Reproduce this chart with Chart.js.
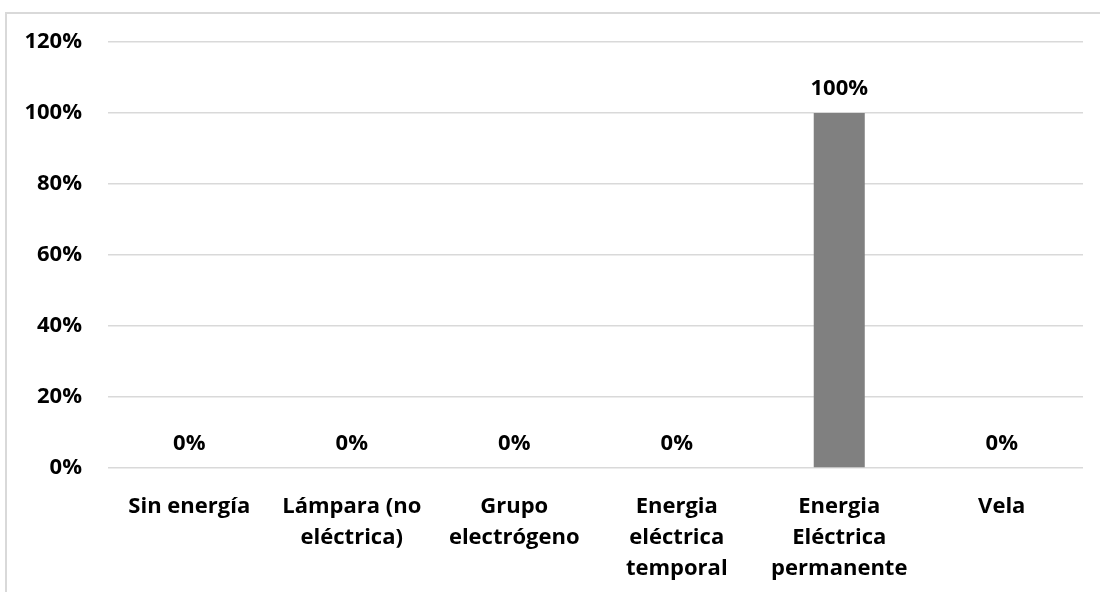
<!DOCTYPE html>
<html>
<head>
<meta charset="utf-8">
<script src="https://cdn.jsdelivr.net/npm/chart.js@4"></script>
<style>
    body { margin: 0; background: #fff; overflow: hidden; }
    .frame { position: absolute; left: 5px; top: 12px; width: 1200px; height: 700px; border: 2px solid #d9d9d9; }
    #myChart { position: absolute; left: 0; top: 0; }
</style>
</head>
<body>
<div class="frame"></div>
<canvas id="myChart" width="1100" height="592"></canvas>
<script>
// categories (each one split into the lines shown under the axis)
const labels = [
    ['Sin energía'],
    ['Lámpara (no', 'eléctrica)'],
    ['Grupo', 'electrógeno'],
    ['Energia', 'eléctrica', 'temporal'],
    ['Energia', 'Eléctrica', 'permanente'],
    ['Vela']
];
// percent values
const dataSet = [0, 0, 0, 0, 100, 0];
// y axis
const yMax = 120;
const yStep = 20;

const fontFamily = '"Open Sans", "Liberation Sans", sans-serif';
const font = { family: fontFamily, size: 22, weight: 'bold' };

// draws the "x%" label above each bar
const valueLabels = {
    id: 'valueLabels',
    afterDatasetsDraw(chart) {
        const ctx = chart.ctx;
        const meta = chart.getDatasetMeta(0);
        ctx.save();
        ctx.font = 'bold 22px ' + fontFamily;
        ctx.fillStyle = '#000';
        ctx.textAlign = 'center';
        ctx.textBaseline = 'alphabetic';
        meta.data.forEach((bar, i) => {
            ctx.fillText(dataSet[i] + '%', bar.x, bar.y - 18.5);
        });
        ctx.restore();
    }
};

new Chart(document.getElementById('myChart').getContext('2d'), {
    type: 'bar',
    data: {
        labels: labels,
        datasets: [{
            data: dataSet,
            backgroundColor: '#808080',
            borderWidth: 0,
            barPercentage: 0.314,
            categoryPercentage: 1
        }]
    },
    options: {
        responsive: false,
        animation: false,
        devicePixelRatio: 1,
        layout: { padding: { top: 42, right: 17, bottom: 0, left: 0 } },
        plugins: {
            legend: { display: false },
            tooltip: { enabled: false }
        },
        scales: {
            x: {
                grid: { display: false, drawTicks: false },
                border: { display: false },
                ticks: { color: '#000', font: { ...font, lineHeight: 1.41 }, padding: 23, maxRotation: 0, autoSkip: false },
                afterFit: (scale) => { scale.height = 124; }
            },
            y: {
                min: 0,
                max: yMax,
                grid: { color: '#d9d9d9', lineWidth: 1.5, drawTicks: false },
                border: { display: false },
                ticks: {
                    stepSize: yStep,
                    color: '#000',
                    font: font,
                    padding: 26,
                    callback: (v) => v + '%'
                },
                afterFit: (scale) => { scale.width = 108; }
            }
        }
    },
    plugins: [valueLabels]
});
</script>
</body>
</html>
